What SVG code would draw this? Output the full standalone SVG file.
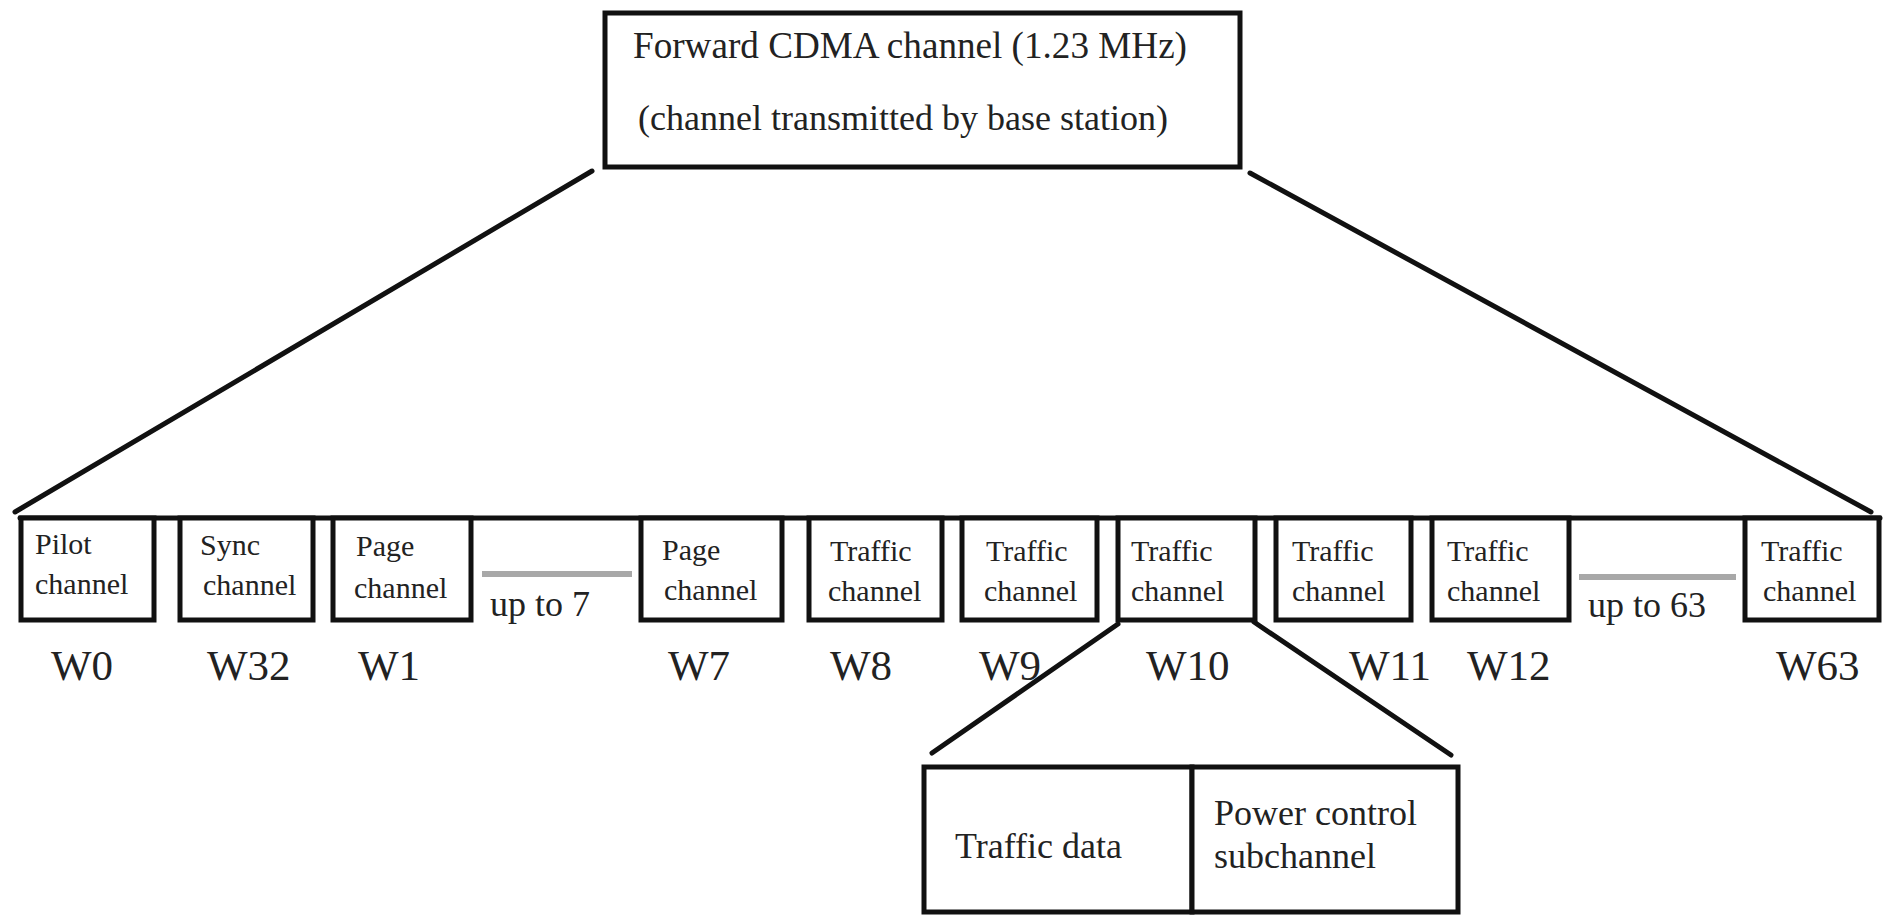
<svg xmlns="http://www.w3.org/2000/svg" width="1883" height="916" viewBox="0 0 1883 916">
  <style>
    .box { fill: #ffffff; stroke: #111111; stroke-width: 5; }
    .line { fill: none; stroke: #111111; stroke-width: 5; stroke-linecap: round; }
    .gap { fill: none; stroke: #a8a8a8; stroke-width: 6; }
    text { font-family: "Liberation Serif", "Times New Roman", serif; fill: #222222; }
    .ch { font-size: 30px; }
    .w { font-size: 43px; }
    .big { font-size: 36px; }
  </style>
  <rect width="1883" height="916" fill="#ffffff"/>

  <!-- connectors -->
  <g id="connectors">
    <line class="line" x1="592" y1="171" x2="15" y2="512"/>
    <line class="line" x1="1250" y1="173" x2="1871" y2="512"/>
    <line class="line" x1="20" y1="518" x2="1880" y2="518"/>
    <line class="line" x1="1118" y1="624" x2="932" y2="753"/>
    <line class="line" x1="1254" y1="622" x2="1451" y2="755"/>
  </g>

  <!-- forward channel -->
  <g id="forward-channel">
    <rect class="box" x="605" y="13" width="635" height="154"/>
    <text x="633" y="58" font-size="37" textLength="554" lengthAdjust="spacingAndGlyphs">Forward CDMA channel (1.23 MHz)</text>
    <text x="638" y="130" font-size="36" textLength="530" lengthAdjust="spacingAndGlyphs">(channel transmitted by base station)</text>
  </g>

  <g id="pilot-w0">
    <rect class="box" x="21" y="518" width="133" height="102"/>
    <text class="ch" x="35" y="554">Pilot</text>
    <text class="ch" x="35" y="594">channel</text>
    <text class="w" x="51" y="680">W0</text>
  </g>

  <g id="sync-w32">
    <rect class="box" x="180" y="518" width="133" height="102"/>
    <text class="ch" x="200" y="555">Sync</text>
    <text class="ch" x="203" y="595">channel</text>
    <text class="w" x="207" y="680">W32</text>
  </g>

  <g id="page-w1">
    <rect class="box" x="333" y="518" width="138" height="102"/>
    <text class="ch" x="356" y="556">Page</text>
    <text class="ch" x="354" y="598">channel</text>
    <text class="w" x="358" y="680">W1</text>
  </g>

  <g id="gap-up-to-7">
    <line class="gap" x1="482" y1="574" x2="632" y2="574"/>
    <text class="big" x="490" y="616">up to 7</text>
  </g>

  <g id="page-w7">
    <rect class="box" x="641" y="518" width="141" height="102"/>
    <text class="ch" x="662" y="560">Page</text>
    <text class="ch" x="664" y="600">channel</text>
    <text class="w" x="668" y="680">W7</text>
  </g>

  <g id="traffic-w8">
    <rect class="box" x="809" y="518" width="133" height="102"/>
    <text class="ch" x="830" y="561">Traffic</text>
    <text class="ch" x="828" y="601">channel</text>
    <text class="w" x="830" y="680">W8</text>
  </g>

  <g id="traffic-w9">
    <rect class="box" x="962" y="518" width="135" height="102"/>
    <text class="ch" x="986" y="561">Traffic</text>
    <text class="ch" x="984" y="601">channel</text>
    <text class="w" x="979" y="680">W9</text>
  </g>

  <g id="traffic-w10">
    <rect class="box" x="1118" y="518" width="137" height="102"/>
    <text class="ch" x="1131" y="561">Traffic</text>
    <text class="ch" x="1131" y="601">channel</text>
    <text class="w" x="1146" y="680">W10</text>
  </g>

  <g id="traffic-w11">
    <rect class="box" x="1276" y="518" width="135" height="102"/>
    <text class="ch" x="1292" y="561">Traffic</text>
    <text class="ch" x="1292" y="601">channel</text>
    <text class="w" x="1349" y="680">W11</text>
  </g>

  <g id="traffic-w12">
    <rect class="box" x="1432" y="518" width="137" height="102"/>
    <text class="ch" x="1447" y="561">Traffic</text>
    <text class="ch" x="1447" y="601">channel</text>
    <text class="w" x="1467" y="680">W12</text>
  </g>

  <g id="gap-up-to-63">
    <line class="gap" x1="1579" y1="577" x2="1736" y2="577"/>
    <text class="big" x="1588" y="617">up to 63</text>
  </g>

  <g id="traffic-w63">
    <rect class="box" x="1745" y="518" width="134" height="102"/>
    <text class="ch" x="1761" y="561">Traffic</text>
    <text class="ch" x="1763" y="601">channel</text>
    <text class="w" x="1776" y="680">W63</text>
  </g>

  <!-- traffic channel breakdown -->
  <g id="traffic-data">
    <rect class="box" x="924" y="767" width="268" height="145"/>
    <text class="big" x="955" y="858">Traffic data</text>
  </g>

  <g id="power-control-subchannel">
    <rect class="box" x="1192" y="767" width="266" height="145"/>
    <text class="big" x="1214" y="825">Power control</text>
    <text class="big" x="1214" y="868">subchannel</text>
  </g>
</svg>
